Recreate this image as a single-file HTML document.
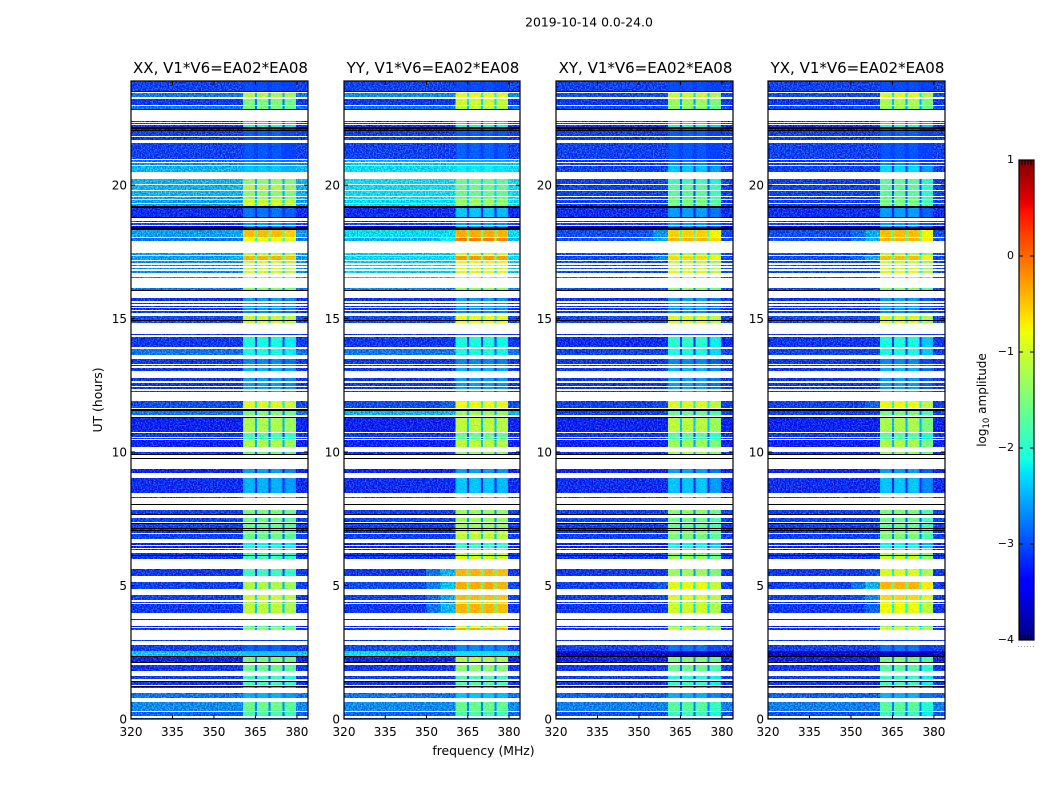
<!DOCTYPE html>
<html lang="en">
<head>
<meta charset="utf-8">
<title>2019-10-14 amplitude waterfall</title>
<style>
html,body{margin:0;padding:0;background:#fff;width:1050px;height:800px;overflow:hidden}
svg{display:block}
text{font-family:"DejaVu Sans","Liberation Sans",sans-serif;fill:#000}
</style>
</head>
<body>
<svg id="figure" width="1050" height="800" viewBox="0 0 1050 800" xmlns="http://www.w3.org/2000/svg">
<defs>
<filter id="grain" x="0" y="0" width="100%" height="100%" color-interpolation-filters="sRGB">
<feTurbulence type="fractalNoise" baseFrequency="0.75" numOctaves="1" seed="3" result="n"/>
<feColorMatrix in="n" type="matrix" values="1 0 0 0 0 1 0 0 0 0 1 0 0 0 0 0 0 0 0 1" result="gray"/>
<feComposite in="SourceGraphic" in2="gray" operator="arithmetic" k1="0" k2="1" k3="1.1" k4="-0.55" result="m"/>
<feComposite in="m" in2="SourceAlpha" operator="in"/>
</filter>
<filter id="grain-soft" x="0" y="0" width="100%" height="100%" color-interpolation-filters="sRGB">
<feTurbulence type="fractalNoise" baseFrequency="0.75" numOctaves="1" seed="7" result="n"/>
<feColorMatrix in="n" type="matrix" values="1 0 0 0 0 1 0 0 0 0 1 0 0 0 0 0 0 0 0 1" result="gray"/>
<feComposite in="SourceGraphic" in2="gray" operator="arithmetic" k1="0" k2="1" k3="0.4" k4="-0.2" result="m"/>
<feComposite in="m" in2="SourceAlpha" operator="in"/>
</filter>
</defs>
</svg>
<script>
const panelTitles = ["XX, V1*V6=EA02*EA08","YY, V1*V6=EA02*EA08","XY, V1*V6=EA02*EA08","YX, V1*V6=EA02*EA08"];
const freqTicks = [320,335,350,365,380];
const hourTicks = [0,5,10,15,20];
const colorbarTicks = [1,0,-1,-2,-3,-4];

/* time samples: 638 samples span 23.9 hours */
const segmentStart = [0,3,8,21,31,34,40,48,57,63,
68,78,89,92,99,106,116,119,130,143,
160,162,169,171,174,180,186,189,191,197,
205,221,226,246,265,272,280,282,287,304,
311,327,330,333,338,348,353,355,364,372,
384,396,406,409,412,415,418,429,441,446,
450,453,456,459,464,478,482,492,494,497,
502,513,516,520,523,529,535,547,554,557,
560,579,583,589,592,595,597,610,614,622,
628];
const segmentEnd = [1,7,17,26,32,38,43,54,62,68,
74,79,91,93,100,115,117,124,137,150,
162,166,170,173,176,185,188,190,195,201,
209,222,241,250,267,279,281,286,301,308,
318,328,332,336,341,351,354,360,370,382,
385,403,408,411,413,416,421,431,442,448,
451,454,458,463,466,481,489,493,496,498,
511,515,519,522,528,534,540,553,556,559,
576,582,588,590,594,596,598,613,620,626,
638];

/* frequency channels in MHz; band -1 continuum, -3/-4 shoulder, -2 gap, 0-3 subband */
const channelEdges = [320,340,350,355,360.5,361,364.3,364.8,365.5,366,369.3,369.8,370.5,371,374.2,374.7,375.5,376,379.2,379.7,384];
const channelBand = [-1,-1,-4,-3,0,0,0,-2,1,1,1,-2,2,2,2,-2,3,3,3,-1];
const channelGain = [0,0,0,0,-0.08,0,-0.08,0,-0.08,0,-0.08,0,-0.08,0,-0.08,0,-0.08,0,-0.08,0];

/* log10 amplitude, continuum part of each segment */
const continuumXX = [-3.0,-2.9,-2.7,-2.8,-3.1,-3.1,-3.05,-3.1,-3.2,-2.4,
-3.05,-3.1,-3.1,-3.2,-3.2,-3.1,-3.1,-3.05,-3.05,-3.1,
-3.1,-3.1,-3.2,-3.2,-3.2,-3.05,-3.1,-3.1,-3.05,-3.05,
-3.05,-3.1,-3.15,-3.2,-3.1,-3.2,-3.1,-3.1,-3.2,-2.8,
-3.0,-3.1,-3.1,-3.1,-3.1,-3.1,-3.1,-3.1,-2.8,-3.1,
-3.1,-3.0,-3.1,-3.1,-3.1,-3.1,-3.1,-2.8,-2.7,-2.7,
-2.7,-2.7,-2.7,-2.6,-2.6,-2.8,-2.6,-3.6,-3.0,-3.1,
-3.15,-2.6,-2.6,-2.6,-2.5,-2.5,-2.5,-2.5,-2.7,-2.8,
-3.05,-3.1,-3.05,-3.3,-3.1,-3.1,-3.1,-2.8,-3.1,-2.8,
-3.05];
const continuumYY = [-3.0,-2.9,-2.7,-2.8,-3.1,-3.1,-3.05,-3.1,-3.2,-2.25,
-3.0,-3.1,-3.1,-3.2,-3.2,-3.1,-3.1,-3.05,-3.0,-3.1,
-3.1,-3.1,-3.2,-3.2,-3.2,-3.05,-3.1,-3.1,-3.05,-3.05,
-3.05,-3.1,-3.15,-3.2,-3.1,-3.2,-3.1,-3.1,-3.2,-2.5,
-3.0,-3.1,-3.1,-3.1,-3.1,-3.1,-3.1,-3.1,-2.8,-3.1,
-3.1,-3.0,-3.1,-3.1,-3.1,-3.1,-3.1,-2.7,-2.4,-2.4,
-2.4,-2.4,-2.4,-2.3,-2.4,-2.5,-2.3,-3.6,-3.0,-3.1,
-3.15,-2.3,-2.3,-2.3,-2.3,-2.3,-2.3,-2.3,-2.4,-2.5,
-3.05,-3.1,-3.05,-3.3,-3.1,-3.1,-3.1,-2.8,-3.1,-2.7,
-3.05];
const continuumXY = [-3.0,-3.0,-2.75,-2.9,-3.1,-3.1,-3.05,-3.1,-3.2,-3.7,
-3.05,-3.1,-3.1,-3.2,-3.2,-3.1,-3.1,-3.05,-3.05,-3.1,
-3.1,-3.1,-3.2,-3.2,-3.2,-3.05,-3.1,-3.1,-3.05,-3.05,
-3.05,-3.1,-3.15,-3.2,-3.1,-3.2,-3.1,-3.1,-3.2,-3.05,
-3.05,-3.1,-3.1,-3.1,-3.1,-3.1,-3.1,-3.1,-3.05,-3.15,
-3.1,-3.0,-3.1,-3.1,-3.1,-3.1,-3.1,-3.0,-3.0,-3.0,
-3.0,-3.0,-3.0,-3.0,-3.0,-3.0,-3.0,-3.6,-3.0,-3.1,
-3.15,-3.05,-3.05,-3.05,-3.05,-3.05,-3.05,-3.05,-3.05,-3.1,
-3.05,-3.1,-3.05,-3.3,-3.1,-3.1,-3.1,-3.0,-3.1,-3.0,
-3.05];
const continuumYX = [-3.0,-3.0,-2.75,-2.9,-3.1,-3.1,-3.05,-3.1,-3.2,-3.7,
-3.05,-3.1,-3.1,-3.2,-3.2,-3.1,-3.1,-3.05,-3.05,-3.1,
-3.1,-3.1,-3.2,-3.2,-3.2,-3.05,-3.1,-3.1,-3.05,-3.05,
-3.05,-3.1,-3.15,-3.2,-3.1,-3.2,-3.1,-3.1,-3.2,-3.05,
-3.05,-3.1,-3.1,-3.1,-3.1,-3.1,-3.1,-3.1,-3.05,-3.1,
-3.1,-3.0,-3.1,-3.1,-3.1,-3.1,-3.1,-3.0,-3.0,-3.0,
-3.0,-3.0,-3.0,-3.0,-3.0,-3.0,-3.0,-3.6,-3.0,-3.1,
-3.15,-3.05,-3.05,-3.05,-3.05,-3.05,-3.05,-3.05,-3.05,-3.1,
-3.05,-3.1,-3.05,-3.3,-3.1,-3.1,-3.1,-3.0,-3.1,-3.0,
-3.05];

/* log10 amplitude, 360-380 MHz part of each segment */
const inbandXX = [-2.8,-1.8,-1.6,-2.5,-2.3,-1.9,-1.9,-1.6,-1.5,-2.4,
-2.9,-3.1,-1.3,-1.8,-3.1,-1.1,-1.2,-1.0,-1.2,-1.9,
-1.7,-1.9,-2.0,-2.1,-2.2,-1.6,-1.5,-1.5,-1.6,-1.6,
-1.5,-2.3,-2.5,-2.6,-1.6,-1.2,-2.0,-1.8,-1.2,-1.5,
-0.9,-2.5,-2.6,-2.6,-2.6,-2.5,-2.6,-2.7,-2.1,-2.1,
-3.0,-1.0,-2.7,-2.6,-2.6,-2.6,-2.6,-1.4,-1.2,-1.0,
-1.0,-1.0,-1.0,-0.4,-1.2,-0.8,-0.45,-2.6,-2.6,-2.7,
-2.8,-1.0,-1.0,-1.3,-1.4,-1.2,-1.4,-2.4,-2.6,-2.7,
-2.95,-3.0,-2.9,-3.0,-2.1,-2.3,-2.3,-1.5,-1.5,-1.2,
-3.0];
const inbandYY = [-2.8,-1.8,-1.6,-2.4,-2.3,-1.8,-1.8,-1.4,-1.15,-2.25,
-2.7,-3.1,-0.4,-1.0,-3.1,-0.4,-0.6,-0.45,-0.35,-0.4,
-0.9,-1.0,-1.6,-1.9,-2.0,-1.1,-1.0,-1.1,-1.3,-1.3,
-1.3,-2.3,-2.4,-2.6,-1.3,-1.1,-1.8,-1.6,-1.1,-1.3,
-0.8,-2.5,-2.6,-2.6,-2.6,-2.5,-2.6,-2.7,-2.1,-2.1,
-3.0,-0.8,-2.7,-2.6,-2.6,-2.6,-2.6,-1.3,-1.0,-0.9,
-0.9,-0.8,-0.7,-0.25,-1.0,-0.1,-0.35,-2.4,-2.6,-2.7,
-2.4,-1.3,-1.3,-1.5,-1.6,-1.6,-1.6,-2.2,-2.4,-2.5,
-2.9,-3.0,-2.9,-3.0,-2.1,-2.3,-2.3,-1.1,-1.0,-0.85,
-3.0];
const inbandXY = [-2.8,-1.9,-1.7,-2.5,-2.3,-2.0,-2.0,-1.6,-1.45,-3.6,
-2.8,-3.1,-0.9,-1.5,-3.1,-1.0,-1.1,-0.9,-0.85,-1.3,
-1.2,-1.4,-1.9,-2.1,-2.2,-1.5,-1.4,-1.5,-1.6,-1.6,
-1.4,-2.3,-2.4,-2.6,-1.2,-1.3,-1.9,-1.7,-1.1,-1.6,
-0.9,-2.5,-2.6,-2.6,-2.6,-2.5,-2.6,-2.7,-2.1,-2.0,
-3.0,-0.9,-2.7,-2.6,-2.6,-2.6,-2.6,-1.4,-1.3,-0.9,
-1.0,-1.0,-1.1,-0.6,-1.3,-0.4,-0.55,-2.6,-2.6,-2.7,
-2.6,-1.5,-1.5,-1.6,-1.7,-1.7,-1.9,-2.4,-2.7,-2.8,
-2.95,-3.0,-2.9,-3.0,-2.1,-2.3,-2.3,-1.4,-1.3,-1.0,
-3.0];
const inbandYX = [-2.8,-1.9,-1.7,-2.5,-2.3,-1.9,-1.9,-1.7,-1.5,-3.6,
-2.8,-3.1,-0.8,-1.4,-3.1,-0.8,-0.9,-0.6,-0.4,-0.9,
-1.0,-1.1,-1.8,-2.1,-2.2,-1.5,-1.4,-1.5,-1.6,-1.6,
-1.5,-2.3,-2.4,-2.6,-1.3,-1.2,-1.9,-1.7,-1.2,-1.5,
-0.8,-2.5,-2.6,-2.6,-2.6,-2.5,-2.6,-2.7,-2.1,-2.1,
-3.0,-0.9,-2.7,-2.6,-2.6,-2.6,-2.6,-1.4,-1.2,-0.9,
-1.0,-0.9,-1.0,-0.45,-1.2,-0.4,-0.45,-2.6,-2.6,-2.7,
-2.6,-1.5,-1.5,-1.6,-1.7,-1.7,-1.7,-2.3,-2.7,-2.8,
-2.95,-3.0,-2.9,-3.0,-2.1,-2.3,-2.3,-1.3,-1.2,-0.9,
-3.0];

/* per-polarisation level of each of the four subbands */
const subbandOffsetXX = [0,0,0,-0.1];
const subbandOffsetYY = [0,0,0,-0.05];
const subbandOffsetXY = [0,0,0,-0.2];
const subbandOffsetYX = [0,0,0,-0.3];

/* samples where all channels drop out to black */
const dropoutStart = [32,37,56,62,163,188,190,195,204,214,260,264,301,308,398,428,489,501,511,588,590,609,627];
const dropoutEnd = [33,38,57,63,164,189,191,196,205,215,261,265,302,310,399,429,492,502,513,589,592,610,628];

const continuumSets = [continuumXX,continuumYY,continuumXY,continuumYX];
const inbandSets = [inbandXX,inbandYY,inbandXY,inbandYX];
const offsetSets = [subbandOffsetXX,subbandOffsetYY,subbandOffsetXY,subbandOffsetYX];

const NS = "http://www.w3.org/2000/svg";
const fig = document.getElementById("figure");
const panelLeft = [131,344,556,768];
const panelWidth = [177,176,177,177];
const plotTop = 81, plotBottom = 719;
const freqMin = 320, freqMax = 384, hourSpan = 23.9, sampleCount = 638;
const vMin = -4, vMax = 1;

function make(tag, attrs, parent, txt){
  const e = document.createElementNS(NS, tag);
  for (const k in attrs) e.setAttribute(k, attrs[k]);
  if (txt !== undefined) e.textContent = txt;
  (parent || fig).appendChild(e);
  return e;
}
function xScale(p, mhz){ return panelLeft[p] + (mhz - freqMin) / (freqMax - freqMin) * panelWidth[p]; }
function yScale(hours){ return plotBottom - hours / hourSpan * (plotBottom - plotTop); }
function sampleY(s){ return yScale(s * hourSpan / sampleCount); }
function jet(v){
  const f = Math.max(0, Math.min(1, (v - vMin) / (vMax - vMin)));
  const c = (a) => Math.round(255 * Math.max(0, Math.min(1, a)));
  const r = f < 0.35 ? 0 : f < 0.66 ? (f - 0.35) / 0.31 : f < 0.89 ? 1 : 1 - (f - 0.89) / 0.11 * 0.5;
  const g = f < 0.125 ? 0 : f < 0.375 ? (f - 0.125) / 0.25 : f < 0.64 ? 1 : f < 0.91 ? 1 - (f - 0.64) / 0.27 : 0;
  const b = f < 0.11 ? 0.5 + f / 0.11 * 0.5 : f < 0.34 ? 1 : f < 0.65 ? 1 - (f - 0.34) / 0.31 : 0;
  return "rgb(" + c(r) + "," + c(g) + "," + c(b) + ")";
}
function minusLabel(v){ return v < 0 ? "\u2212" + Math.abs(v) : String(v); }

const title = make("text", {x:589, y:26.5, "text-anchor":"middle", "font-size":"12.4"}, fig, "2019-10-14 0.0-24.0");



panelTitles.forEach((name, p) => {
  const g = make("g", {}, fig);
  
  

  const left = xScale(p, freqMin), right = xScale(p, freqMax);
  const cont = continuumSets[p], inb = inbandSets[p], off = offsetSets[p];

  const cells = make("g", {"shape-rendering":"crispEdges", filter:"url(#grain)"}, g);
  
  
  const bandCells = make("g", {"shape-rendering":"crispEdges", filter:"url(#grain-soft)"}, g);
  
  

  segmentStart.forEach((s, i) => {
    const yTop = sampleY(segmentEnd[i]);
    const h = sampleY(s) - yTop;
    channelBand.forEach((band, c) => {
      let v = cont[i];
      if (band >= 0) v = Math.max(cont[i], inb[i] + off[band] + channelGain[c]);
      if (band === -2) v = Math.max(cont[i], inb[i] - 1.3);
      if (band === -3) v = Math.max(cont[i], inb[i] - 2.1);
      if (band === -4) v = Math.max(cont[i], inb[i] - 2.4);
      const x0 = xScale(p, channelEdges[c]);
      const x1 = xScale(p, channelEdges[c + 1]);
      const cell = make("rect", {x:x0, y:yTop, width:x1 - x0, height:h, fill:jet(v)}, (band >= 0 || band === -2) ? bandCells : cells);
      
      
    });
  });

  const drops = make("g", {"shape-rendering":"crispEdges"}, g);
  
  
  dropoutStart.forEach((s, i) => {
    const yTop = sampleY(dropoutEnd[i]);
    const line = make("rect", {x:left, y:yTop, width:right - left, height:sampleY(s) - yTop, fill:"#000"}, drops);
    
    
  });

  const frame = make("rect", {x:left, y:plotTop, width:right - left, height:plotBottom - plotTop, fill:"none", stroke:"#000", "stroke-width":"1.2"}, g);
  
  

  freqTicks.forEach((t) => {
    const x = xScale(p, t);
    const b = make("path", {d:"M" + x + " " + plotBottom + "v-4M" + x + " " + plotTop + "v4", stroke:"#000", "stroke-width":"1", fill:"none"}, g);
    
    
    const l = make("text", {x:x, y:736, "text-anchor":"middle", "font-size":"12"}, g, String(t));
    
    
  });
  hourTicks.forEach((t) => {
    const y = yScale(t);
    const b = make("path", {d:"M" + left + " " + y + "h4M" + right + " " + y + "h-4", stroke:"#000", "stroke-width":"1", fill:"none"}, g);
    
    
    const l = make("text", {x:left - 4, y:y + 4.5, "text-anchor":"end", "font-size":"12"}, g, String(t));
    
    
  });

  const t = make("text", {x:(left + right) / 2 + 1, y:73, "text-anchor":"middle", "font-size":"15"}, g, name);
  
  
});

const yLabel = make("text", {x:0, y:0, transform:"translate(102,400) rotate(-90)", "text-anchor":"middle", "font-size":"12.4"}, fig, "UT (hours)");


const xLabel = make("text", {x:483.5, y:755, "text-anchor":"middle", "font-size":"12.4"}, fig, "frequency (MHz)");



/* colorbar */
const cbLeft = 1019, cbRight = 1034, cbTop = 160, cbBottom = 640;
const cb = make("g", {}, fig);


function cbY(v){ return cbBottom - (v - vMin) / (vMax - vMin) * (cbBottom - cbTop); }
const cbRamp = make("g", {"shape-rendering":"crispEdges"}, cb);


for (let py = cbTop; py < cbBottom; py += 2) {
  const s = make("rect", {x:cbLeft, y:py, width:cbRight - cbLeft, height:2, fill:jet(vMax - (py + 1 - cbTop) / (cbBottom - cbTop) * (vMax - vMin))}, cbRamp);
  
  
}
const cbFrame = make("rect", {x:cbLeft, y:cbTop, width:cbRight - cbLeft, height:cbBottom - cbTop, fill:"none", stroke:"#000", "stroke-width":"1.2"}, cb);


colorbarTicks.forEach((v) => {
  const y = cbY(v);
  const t = make("path", {d:"M" + cbLeft + " " + y + "h4M" + cbRight + " " + y + "h-4", stroke:"#000", "stroke-width":"1", fill:"none"}, cb);
  
  
  const l = make("text", {x:1014, y:y + 3, "text-anchor":"end", "font-size":"11"}, cb, minusLabel(v));
  
  
});
const cbMinor = make("path", {d:"M1022 160v5M1025 160v5M1028 160v5M1031 160v5M1022 640v-5M1025 640v-5M1028 640v-5M1031 640v-5", stroke:"#000", "stroke-width":"1", fill:"none"}, cb);


const cbDots = make("path", {d:"M1018 646.5H1035", stroke:"#999", "stroke-width":"1", "stroke-dasharray":"1 2", fill:"none"}, cb);


const cbLabel = make("text", {x:0, y:0, transform:"translate(986,400) rotate(-90)", "text-anchor":"middle", "font-size":"12"}, cb);


make("tspan", {}, cbLabel, "log");
make("tspan", {dy:"3", "font-size":"8.5"}, cbLabel, "10");
make("tspan", {dy:"-3"}, cbLabel, " amplitude");
</script>
</body>
</html>
